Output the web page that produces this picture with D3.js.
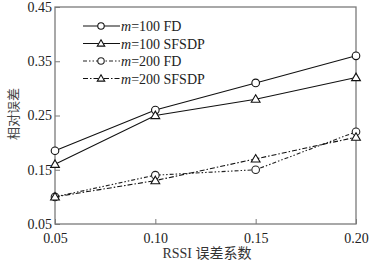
<!DOCTYPE html>
<html><head><meta charset="utf-8">
<script src="https://cdn.jsdelivr.net/npm/d3@7/dist/d3.min.js"></script>
<style>body{margin:0;background:#fff}svg{display:block}</style>
</head><body>
<script>
const xValues = [0.05, 0.10, 0.15, 0.20];
const xTickLabels = ["0.05", "0.10", "0.15", "0.20"];
const yTicks = [0.05, 0.15, 0.25, 0.35, 0.45];
const seriesNames = ["100 FD", "100 SFSDP", "200 FD", "200 SFSDP"];
const m100FD = [0.185, 0.26, 0.31, 0.36];
const m100SFSDP = [0.16, 0.25, 0.28, 0.32];
const m200FD = [0.10, 0.14, 0.15, 0.22];
const m200SFSDP = [0.10, 0.13, 0.17, 0.21];
const xLabel = "RSSI 误差系数";
const yLabel = "相对误差";

const W = 371, H = 266;
const L = 55, R = 356, T = 7, B = 224;
const svg = d3.select("body").append("svg").attr("width", W).attr("height", H);
const x = d3.scaleLinear().domain([0.05, 0.20]).range([L, R]);
const y = d3.scaleLinear().domain([0.05, 0.45]).range([B, T]);
const font = "'Liberation Serif','Times New Roman',serif";
const axisCol = "#7a7a7a";

svg.append("rect").attr("x", L).attr("y", T).attr("width", R - L).attr("height", B - T)
  .attr("fill", "none").attr("stroke", axisCol).attr("stroke-width", 1.3);

const xa = svg.append("g").attr("transform", `translate(0,${B})`)
  .call(d3.axisBottom(x).tickValues(xValues).tickFormat((d, i) => xTickLabels[i]).tickSizeInner(-5).tickSizeOuter(0).tickPadding(9));
xa.select(".domain").remove();
xa.selectAll("line").attr("stroke", axisCol);
xa.selectAll("text").attr("font-family", font).attr("font-size", 14).attr("fill", "#222");

const ya = svg.append("g").attr("transform", `translate(${L},0)`)
  .call(d3.axisLeft(y).tickValues(yTicks).tickFormat(d3.format(".2f")).tickSizeInner(-5).tickSizeOuter(0).tickPadding(3));
ya.select(".domain").remove();
ya.selectAll("line").attr("stroke", axisCol);
ya.selectAll("text").attr("font-family", font).attr("font-size", 14).attr("fill", "#222");

svg.append("text").attr("x", 207).attr("y", 258).attr("text-anchor", "middle")
  .attr("font-family", "'Liberation Serif','Noto Sans CJK SC',serif").attr("font-size", 14).attr("fill", "#333").text(xLabel);
svg.append("text").attr("transform", `translate(18,114) rotate(-90)`).attr("text-anchor", "middle")
  .attr("font-family", "'Noto Sans CJK SC',sans-serif").attr("font-size", 13).attr("fill", "#444").text(yLabel);

const series = [
  {name: seriesNames[0], vals: m100FD, dash: null, marker: "circle", color: "#111"},
  {name: seriesNames[1], vals: m100SFSDP, dash: null, marker: "triangle", color: "#111"},
  {name: seriesNames[2], vals: m200FD, dash: "4,2,1.5,2,1.5,2", marker: "circle", color: "#222"},
  {name: seriesNames[3], vals: m200SFSDP, dash: "5,2,1.5,2", marker: "triangle", color: "#111"}
];

const line = d3.line().x((d, i) => x(xValues[i])).y(d => y(d));
function marker(g, type, cx, cy, col, sc) {
  if (type === "circle") {
    g.append("circle").attr("cx", cx).attr("cy", cy).attr("r", 3.8 * sc)
      .attr("fill", "white").attr("stroke", col).attr("stroke-width", 1.1);
  } else {
    const s = 4.4 * sc;
    g.append("path").attr("d", `M${cx},${cy - s} L${cx + s},${cy + s * 0.7} L${cx - s},${cy + s * 0.7} Z`)
      .attr("fill", "white").attr("stroke", col).attr("stroke-width", 1.1);
  }
}

series.forEach(s => {
  svg.append("path").datum(s.vals).attr("d", line).attr("fill", "none")
    .attr("stroke", s.color).attr("stroke-width", 1.1).attr("stroke-dasharray", s.dash);
  const g = svg.append("g");
  s.vals.forEach((v, i) => marker(g, s.marker, x(xValues[i]), y(v), s.color, 1));
});

const ly0 = 26, ldy = 17.5;
series.forEach((s, i) => {
  const yy = ly0 + i * ldy;
  svg.append("line").attr("x1", 83).attr("x2", 120).attr("y1", yy).attr("y2", yy)
    .attr("stroke", s.color).attr("stroke-width", 1.1).attr("stroke-dasharray", s.dash);
  const g = svg.append("g");
  marker(g, s.marker, 101, yy, s.color, 0.85);
  const t = svg.append("text").attr("x", 121).attr("y", yy + 5)
    .attr("font-family", font).attr("font-size", 14).attr("fill", "#222");
  t.append("tspan").attr("font-style", "italic").text("m");
  t.append("tspan").text("=" + s.name);
});
</script>
</body></html>
